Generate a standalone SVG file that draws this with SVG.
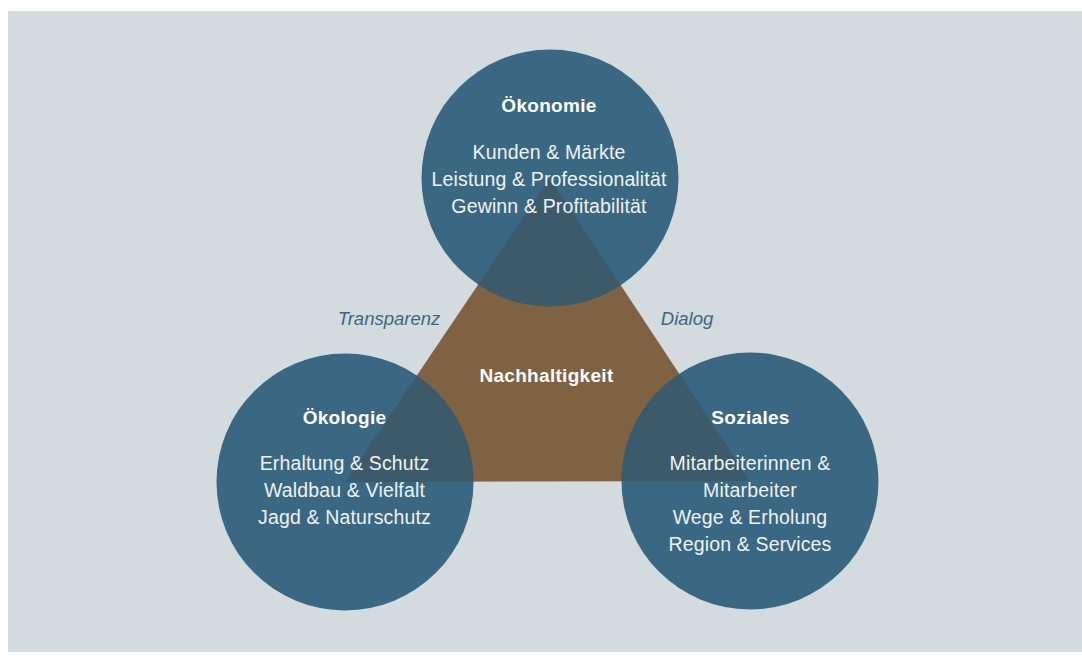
<svg xmlns="http://www.w3.org/2000/svg" width="1082" height="662" viewBox="0 0 1082 662">
  <style>
    .bg { fill: #D3DBDE; }
    .circle { fill: #3A6882; }
    .tri { fill: #7E6242; }
    .overlap { fill: #3D5A6B; }
    .title { font-family: "Liberation Sans", Arial, sans-serif; font-weight: bold; font-size: 19px; fill: #FFFFFF; text-anchor: middle; letter-spacing: 0.3px; }
    .item { font-family: "Liberation Sans", Arial, sans-serif; font-size: 19.5px; fill: #EEF2F4; text-anchor: middle; letter-spacing: 0.15px; }
    .side { font-family: "Liberation Sans", Arial, sans-serif; font-style: italic; font-size: 18.5px; fill: #3A6882; text-anchor: middle; }
  </style>
  <defs>
    <clipPath id="circlesClip">
      <circle cx="550" cy="178" r="128.5"/>
      <circle cx="345" cy="482" r="128.5"/>
      <circle cx="750" cy="481" r="128.5"/>
    </clipPath>
  </defs>

  <rect class="bg" x="8" y="11" width="1074" height="641"/>

  <g id="nachhaltigkeit">
    <polygon class="tri" points="550,178 345,482 750,481"/>
  </g>

  <g id="oekonomie">
    <circle class="circle" cx="550" cy="178" r="128.5"/>
  </g>
  <g id="oekologie">
    <circle class="circle" cx="345" cy="482" r="128.5"/>
  </g>
  <g id="soziales">
    <circle class="circle" cx="750" cy="481" r="128.5"/>
  </g>

  <g id="overlaps">
    <polygon class="overlap" points="550,178 345,482 750,481" clip-path="url(#circlesClip)"/>
  </g>

  <g id="oekonomie-text">
    <text class="title" x="549" y="112">Ökonomie</text>
    <text class="item" x="549" y="159">Kunden &amp; Märkte</text>
    <text class="item" x="549" y="186">Leistung &amp; Professionalität</text>
    <text class="item" x="549" y="212.5">Gewinn &amp; Profitabilität</text>
  </g>

  <g id="oekologie-text">
    <text class="title" x="344.5" y="423.5">Ökologie</text>
    <text class="item" x="344.5" y="470">Erhaltung &amp; Schutz</text>
    <text class="item" x="344.5" y="497">Waldbau &amp; Vielfalt</text>
    <text class="item" x="344.5" y="524">Jagd &amp; Naturschutz</text>
  </g>

  <g id="soziales-text">
    <text class="title" x="750.5" y="423.5">Soziales</text>
    <text class="item" x="750" y="470">Mitarbeiterinnen &amp;</text>
    <text class="item" x="750" y="497">Mitarbeiter</text>
    <text class="item" x="750" y="524">Wege &amp; Erholung</text>
    <text class="item" x="750" y="550.5">Region &amp; Services</text>
  </g>

  <g id="nachhaltigkeit-text">
    <text class="title" x="546.5" y="382">Nachhaltigkeit</text>
  </g>

  <g id="connectors">
    <text class="side" x="389" y="325">Transparenz</text>
    <text class="side" x="687" y="325">Dialog</text>
  </g>
</svg>
